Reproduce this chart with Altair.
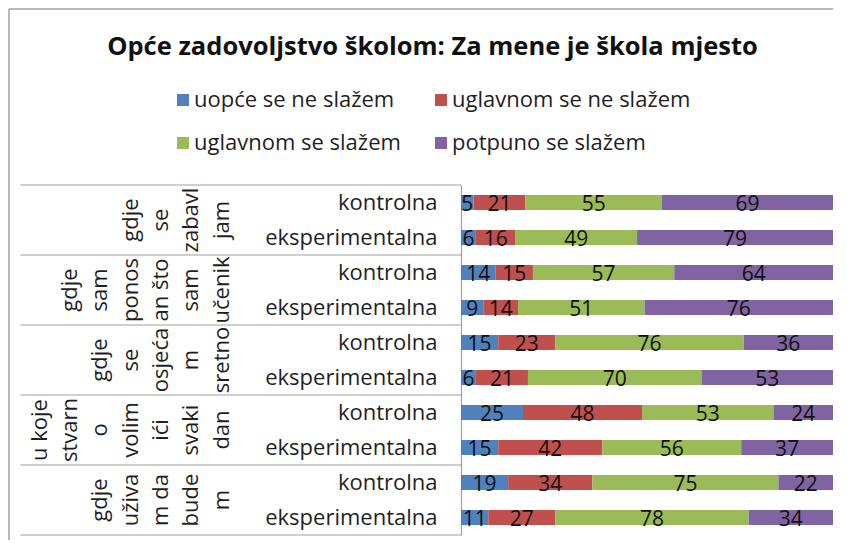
import altair as alt
import pandas as pd

title_text = "Opće zadovoljstvo školom: Za mene je škola mjesto"
categories = ["uopće se ne slažem", "uglavnom se ne slažem", "uglavnom se slažem", "potpuno se slažem"]
colors = ["#4F81BD", "#C0504D", "#9BBB59", "#8064A2"]
rows = ["kontrolna", "eksperimentalna"]
group_labels = [
    ["gdje", "se", "zabavl", "jam"],
    ["gdje", "sam", "ponos", "an što", "sam", "učenik"],
    ["gdje", "se", "osjeća", "m", "sretno"],
    ["u koje", "stvarn", "o", "volim", "ići", "svaki", "dan"],
    ["gdje", "uživa", "m da", "bude", "m"],
]
uopce = [5, 6, 14, 9, 15, 6, 25, 15, 19, 11]
ugl_ne = [21, 16, 15, 14, 23, 21, 48, 42, 34, 27]
ugl_da = [55, 49, 57, 51, 76, 70, 53, 56, 75, 78]
potpuno = [69, 79, 64, 76, 36, 53, 24, 37, 22, 34]

keys = [f"{g + 1}|{r}" for g in range(len(group_labels)) for r in rows]
series = [uopce, ugl_ne, ugl_da, potpuno]

recs = []
for ci, (cat, vals) in enumerate(zip(categories, series)):
    for k, v in zip(keys, vals):
        recs.append({"key": k, "cat": cat, "ord": ci, "value": v})
df = pd.DataFrame(recs)

# one row per wrapped line of each group label; j counts lines from the right
line_recs = []
for gi, lines in enumerate(group_labels):
    n = len(lines)
    for i, ln in enumerate(lines):
        line_recs.append({"key": keys[2 * gi], "line": ln, "j": n - 1 - i})
lines_df = pd.DataFrame(line_recs)
nmax = max(len(g) for g in group_labels)

grp_df = pd.DataFrame({"key": keys[0::2]})
bottom_df = pd.DataFrame({"key": [keys[-1]]})
title_df = pd.DataFrame({"t": [title_text]})

# legend fills column by column: order entries so rows read as in the original
legend_order = [categories[0], categories[2], categories[1], categories[3]]
legend_colors = [colors[0], colors[2], colors[1], colors[3]]

FONT = "Open Sans"
TXT = "#1f1f1f"
LINE = "#a0a0a0"

yscale = alt.Scale(domain=keys, paddingInner=0, paddingOuter=0)
yaxis = alt.Axis(
    title=None, ticks=False, tickSize=0, labelFontSize=22, labelFont=FONT,
    labelColor=TXT, labelPadding=24, labelLimit=300, domainColor=LINE,
    domainWidth=1.2, labelExpr="split(datum.label, '|')[1]", grid=False,
)

def Y(bp=None):
    if bp is None:
        return alt.Y("key:N", scale=yscale, sort=keys, axis=yaxis)
    return alt.Y("key:N", scale=yscale, sort=keys, axis=yaxis, bandPosition=bp)

xscale = alt.Scale(domain=[0, 150], nice=False, zero=True)

base = alt.Chart(df).transform_stack(
    stack="value", as_=["v0", "v1"], groupby=["key"], sort=[alt.SortField("ord")]
).transform_calculate(mid="(datum.v0 + datum.v1) / 2")

bars = base.mark_bar(size=15).encode(
    x=alt.X("v0:Q", scale=xscale, axis=None),
    x2="v1:Q",
    y=Y(),
    color=alt.Color(
        "cat:N",
        scale=alt.Scale(domain=legend_order, range=legend_colors),
        legend=alt.Legend(
            title=None, orient="none", legendX=-289, legendY=-96, columns=2,
            columnPadding=29, rowPadding=21, symbolType="square", symbolSize=144,
            symbolStrokeWidth=0, labelFontSize=22, labelFont=FONT, labelColor=TXT,
            labelOffset=0, padding=0, labelLimit=400,
        ),
    ),
)

values = base.mark_text(fontSize=21, font=FONT, color="#111111", dy=2).encode(
    x=alt.X("mid:Q", scale=xscale, axis=None),
    y=Y(),
    text="value:Q",
)

line_layers = []
for j in range(nmax):
    line_layers.append(
        alt.Chart(lines_df).transform_filter(alt.datum.j == j).mark_text(
            angle=270, align="center", baseline="middle", fontSize=22, font=FONT, color=TXT,
        ).encode(
            x=alt.value(-239.5 - 30.3 * j),
            y=Y(1),
            text="line:N",
        )
    )

sep_top = alt.Chart(grp_df).mark_rule(color=LINE, strokeWidth=1.2).encode(
    x=alt.value(-440.5), x2=alt.value(0), y=Y(0)
)
sep_bottom = alt.Chart(bottom_df).mark_rule(color=LINE, strokeWidth=1.2).encode(
    x=alt.value(-440.5), x2=alt.value(0), y=Y(1)
)

title = alt.Chart(title_df).mark_text(
    fontSize=25.5, font=FONT, fontWeight="bold", color="#111111", align="center", baseline="middle"
).encode(x=alt.value(-28.5), y=alt.value(-138), text="t:N")

frame_left = alt.Chart(title_df).mark_rule(color=LINE, strokeWidth=1.5).encode(
    x=alt.value(-452), y=alt.value(-176), y2=alt.value(355)
)
frame_top = alt.Chart(title_df).mark_rule(color=LINE, strokeWidth=1.5).encode(
    x=alt.value(-452), x2=alt.value(372), y=alt.value(-176)
)

chart = alt.layer(
    frame_left, frame_top, sep_top, sep_bottom, bars, values, *line_layers, title
).properties(
    width=372, height=350, padding=0, background="white"
).configure_view(stroke=None)

chart.save("out.html", embed_options={"renderer": "svg", "actions": False})
